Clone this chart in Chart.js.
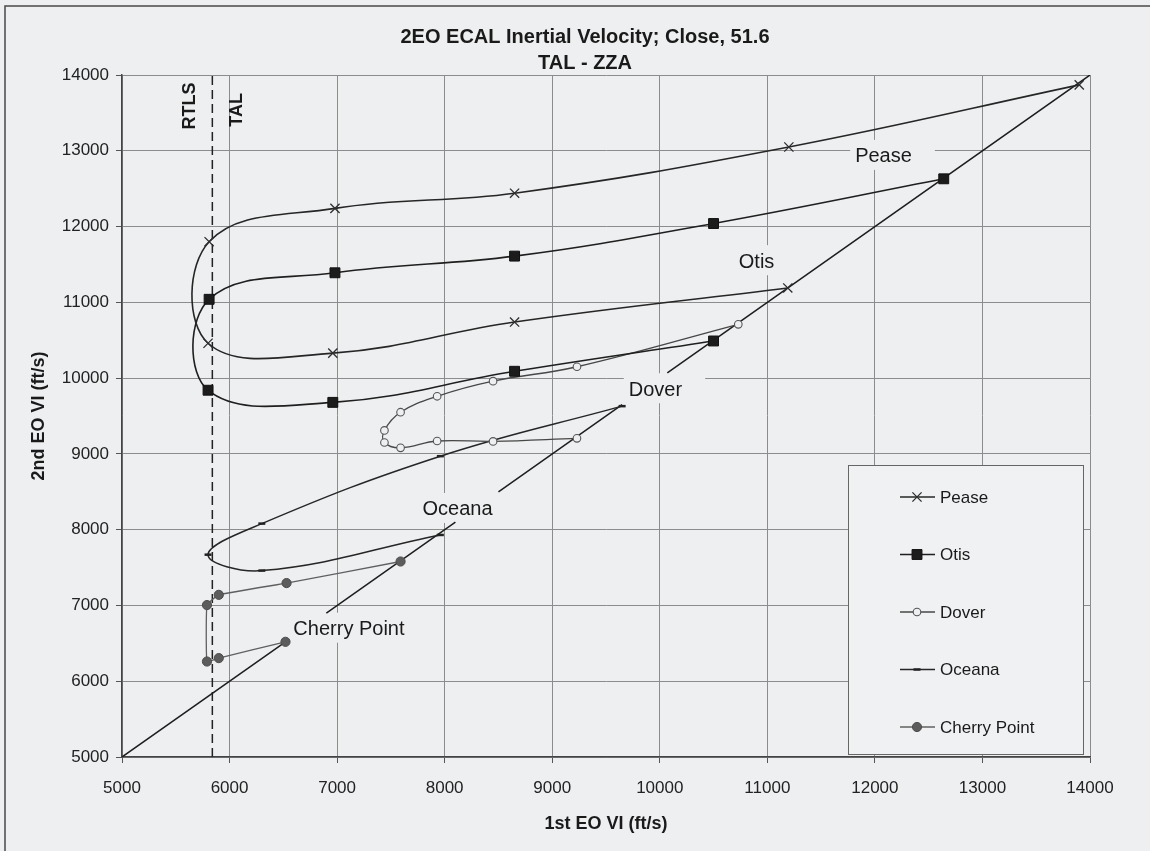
<!DOCTYPE html>
<html>
<head>
<meta charset="utf-8">
<title>2EO ECAL Inertial Velocity; Close, 51.6</title>
<script src="https://cdn.jsdelivr.net/npm/chart.js"></script>
<style>
  html, body { margin: 0; padding: 0; background: #eeeff1; }
  #wrap { width: 1150px; height: 851px; }
</style>
</head>
<body>
<div id="wrap"><canvas id="ecalChart" width="1150" height="851"></canvas></div>
<script>
// Values, all in ft/s (1st EO VI on x, 2nd EO VI on y)
const seriesNames = ['Pease', 'Otis', 'Dover', 'Oceana', 'Cherry Point'];

const peaseX = [13900, 11200, 8650, 6980, 5810, 5800, 6960, 8650, 11190];
const peaseY = [13870, 13050, 12440, 12240, 11800, 10460, 10330, 10740, 11190];

const otisX = [12640, 10500, 8650, 6980, 5810, 5800, 6960, 8650, 10500];
const otisY = [12630, 12040, 11610, 11390, 11040, 9840, 9680, 10090, 10490];

const doverX = [10730, 9230, 8450, 7930, 7590, 7440, 7440, 7590, 7930, 8450, 9230];
const doverY = [10710, 10150, 9960, 9760, 9550, 9310, 9150, 9080, 9170, 9165, 9205];

const oceanaX = [9650, 7960, 6300, 5800, 6300, 7960];
const oceanaY = [9630, 8970, 8080, 7670, 7460, 7930];

const cherryX = [7590, 6530, 5900, 5790, 5790, 5900, 6520];
const cherryY = [7580, 7295, 7140, 7005, 6260, 6305, 6520];

// 1st VI = 2nd VI line, broken where the site names sit
const diagonalV = [5000, 6520, null, 6900, 8100, null, 8500, 9650, null, 10070, 14000];

// RTLS / TAL boundary
const boundaryX = [5840, 5840];
const boundaryY = [5000, 14000];

const axisTicks = [5000, 6000, 7000, 8000, 9000, 10000, 11000, 12000, 13000, 14000];

// site names written on the plot, and the RTLS / TAL words
const siteLabelX = [12080, 10900, 9960, 8120, 7110];
const siteLabelY = [12920, 11530, 9840, 8260, 6680];
const zoneNames = ['RTLS', 'TAL'];
const zoneLabelX = [5630, 6070];
const zoneLabelY = [13590, 13540];

const bg = '#eeeff1';
const ink = '#1a1a1a';
const fontFamily = "'Liberation Sans', Arial, sans-serif";

function toPoints(xs, ys) {
    return xs.map(function(x, i) { return { x: x, y: ys[i] }; });
}

function drawMarker(ctx, ds, x, y) {
    const r = ds.pointRadius;
    const d = r * Math.SQRT1_2;
    ctx.save();
    ctx.lineWidth = ds.pointBorderWidth;
    ctx.strokeStyle = ds.pointBorderColor;
    ctx.fillStyle = ds.pointBackgroundColor;
    ctx.beginPath();
    if (ds.pointStyle === 'crossRot') {
        ctx.moveTo(x - d, y - d); ctx.lineTo(x + d, y + d);
        ctx.moveTo(x - d, y + d); ctx.lineTo(x + d, y - d);
        ctx.stroke();
    } else if (ds.pointStyle === 'rect') {
        ctx.rect(x - d, y - d, 2 * d, 2 * d);
        ctx.fill(); ctx.stroke();
    } else if (ds.pointStyle === 'line') {
        ctx.moveTo(x - r, y); ctx.lineTo(x + r, y);
        ctx.stroke();
    } else {
        ctx.arc(x, y, r, 0, Math.PI * 2);
        ctx.fill(); ctx.stroke();
    }
    ctx.restore();
}

const pagePlugin = {
    id: 'page',
    beforeDraw(chart) {
        const ctx = chart.ctx;
        ctx.save();
        ctx.fillStyle = bg;
        ctx.fillRect(0, 0, chart.width, chart.height);
        // frame of the scanned chart sheet
        ctx.strokeStyle = '#4a4a4a';
        ctx.lineWidth = 1.5;
        ctx.beginPath();
        ctx.moveTo(5, chart.height);
        ctx.lineTo(5, 6);
        ctx.lineTo(chart.width, 6);
        ctx.stroke();
        ctx.restore();
    },
    beforeDatasetsDraw(chart) {
        // site names sit in opaque boxes that hide the grid
        const ctx = chart.ctx;
        const xs = chart.scales.x, ys = chart.scales.y;
        ctx.save();
        ctx.font = '20px ' + fontFamily;
        ctx.textAlign = 'center';
        ctx.textBaseline = 'middle';
        seriesNames.forEach(function(name, i) {
            const cx = xs.getPixelForValue(siteLabelX[i]);
            const cy = ys.getPixelForValue(siteLabelY[i]);
            const w = ctx.measureText(name).width;
            ctx.fillStyle = bg;
            ctx.fillRect(cx - w / 2 - 5, cy - 17, w + 28, 30);
            ctx.fillStyle = ink;
            ctx.fillText(name, cx, cy);
        });
        ctx.restore();
    },
    afterDatasetsDraw(chart) {
        // legend box in the lower right of the plot
        const ctx = chart.ctx;
        const area = chart.chartArea;
        const box = { left: area.right - 242, top: area.bottom - 292, right: area.right - 7, bottom: area.bottom - 3 };
        ctx.save();
        ctx.fillStyle = '#f0f1f3';
        ctx.fillRect(box.left, box.top, box.right - box.left, box.bottom - box.top);
        ctx.strokeStyle = '#666';
        ctx.lineWidth = 1;
        ctx.strokeRect(box.left + 0.5, box.top + 0.5, box.right - box.left, box.bottom - box.top);
        ctx.font = '17px ' + fontFamily;
        ctx.textBaseline = 'middle';
        ctx.textAlign = 'left';
        seriesNames.forEach(function(name, i) {
            const ds = chart.data.datasets[i];
            const y = box.top + 32 + i * 57.5;
            const x0 = box.left + 52;
            ctx.strokeStyle = ds.borderColor;
            ctx.lineWidth = ds.borderWidth;
            ctx.beginPath();
            ctx.moveTo(x0, y);
            ctx.lineTo(x0 + 35, y);
            ctx.stroke();
            drawMarker(ctx, ds, x0 + 17, y);
            ctx.fillStyle = ink;
            ctx.fillText(name, x0 + 40, y + 1);
        });
        ctx.restore();
    },
    afterDraw(chart) {
        const ctx = chart.ctx;
        const xs = chart.scales.x, ys = chart.scales.y;
        ctx.save();
        ctx.fillStyle = ink;
        ctx.textAlign = 'center';
        ctx.textBaseline = 'middle';
        ctx.font = 'bold 20px ' + fontFamily;
        ctx.fillText('2EO ECAL Inertial Velocity; Close, 51.6', 585, 37);
        ctx.fillText('TAL - ZZA', 585, 63);
        ctx.font = 'bold 18px ' + fontFamily;
        zoneNames.forEach(function(name, i) {
            ctx.save();
            ctx.translate(xs.getPixelForValue(zoneLabelX[i]), ys.getPixelForValue(zoneLabelY[i]));
            ctx.rotate(-Math.PI / 2);
            ctx.fillText(name, 0, 0);
            ctx.restore();
        });
        ctx.restore();
    }
};

const tickFont = { family: fontFamily, size: 17 };
const titleFont = { family: fontFamily, size: 18, weight: 'bold' };

new Chart(document.getElementById('ecalChart'), {
    type: 'scatter',
    data: {
        datasets: [{
            label: seriesNames[0],
            data: toPoints(peaseX, peaseY),
            showLine: true,
            tension: 0.4,
            borderColor: '#262626',
            borderWidth: 1.6,
            pointStyle: 'crossRot',
            pointRadius: 6.5,
            pointBorderWidth: 1.3,
            pointBorderColor: '#2e2e2e',
            pointBackgroundColor: '#2e2e2e'
        }, {
            label: seriesNames[1],
            data: toPoints(otisX, otisY),
            showLine: true,
            tension: 0.4,
            borderColor: '#1f1f1f',
            borderWidth: 1.6,
            pointStyle: 'rect',
            pointRadius: 7,
            pointBorderWidth: 1,
            pointBorderColor: '#111',
            pointBackgroundColor: '#1c1c1c'
        }, {
            label: seriesNames[2],
            data: toPoints(doverX, doverY),
            showLine: true,
            tension: 0.4,
            borderColor: '#474747',
            borderWidth: 1.3,
            pointStyle: 'circle',
            pointRadius: 3.8,
            pointBorderWidth: 1.1,
            pointBorderColor: '#555',
            pointBackgroundColor: bg
        }, {
            label: seriesNames[3],
            data: toPoints(oceanaX, oceanaY),
            showLine: true,
            tension: 0.4,
            borderColor: '#262626',
            borderWidth: 1.5,
            pointStyle: 'line',
            pointRadius: 3.5,
            pointBorderWidth: 2.5,
            pointBorderColor: '#222',
            pointBackgroundColor: '#222'
        }, {
            label: seriesNames[4],
            data: toPoints(cherryX, cherryY),
            showLine: true,
            tension: 0.1,
            borderColor: '#606060',
            borderWidth: 1.3,
            pointStyle: 'circle',
            pointRadius: 4.6,
            pointBorderWidth: 1,
            pointBorderColor: '#4d4d4d',
            pointBackgroundColor: '#5c5c5c'
        }, {
            label: 'diagonal',
            data: toPoints(diagonalV, diagonalV),
            showLine: true,
            tension: 0,
            borderColor: '#1e1e1e',
            borderWidth: 1.5,
            pointRadius: 0
        }, {
            label: 'RTLS / TAL',
            data: toPoints(boundaryX, boundaryY),
            showLine: true,
            tension: 0,
            borderColor: '#222',
            borderWidth: 1.5,
            borderDash: [9, 5],
            pointRadius: 0
        }]
    },
    options: {
        responsive: false,
        animation: false,
        events: [],
        layout: { padding: { top: 75, right: 60, left: 0, bottom: 0 } },
        plugins: {
            legend: { display: false },
            title: { display: false },
            tooltip: { enabled: false }
        },
        scales: {
            x: {
                type: 'linear',
                min: axisTicks[0],
                max: axisTicks[axisTicks.length - 1],
                afterFit: function(scale) { scale.height = 94; },
                afterBuildTicks: function(scale) { scale.ticks = axisTicks.map(v => ({ value: v })); },
                ticks: { callback: v => String(v), font: tickFont, color: '#222', padding: 15 },
                grid: { color: '#8c8c8c', lineWidth: 1, tickLength: 6, tickColor: '#555' },
                border: { color: '#444', width: 1.5 },
                title: { display: true, text: '1st EO VI (ft/s)', font: titleFont, color: ink, padding: { top: 0, bottom: 16 } }
            },
            y: {
                type: 'linear',
                min: axisTicks[0],
                max: axisTicks[axisTicks.length - 1],
                afterFit: function(scale) { scale.width = 122; },
                afterBuildTicks: function(scale) { scale.ticks = axisTicks.map(v => ({ value: v })); },
                ticks: { callback: v => String(v), font: tickFont, color: '#222', padding: 7 },
                grid: { color: '#8c8c8c', lineWidth: 1, tickLength: 6, tickColor: '#555' },
                border: { color: '#444', width: 1.5 },
                title: { display: true, text: '2nd EO VI (ft/s)', font: titleFont, color: ink, padding: { top: 28, bottom: 0 } }
            }
        }
    },
    plugins: [pagePlugin]
});
</script>
</body>
</html>
